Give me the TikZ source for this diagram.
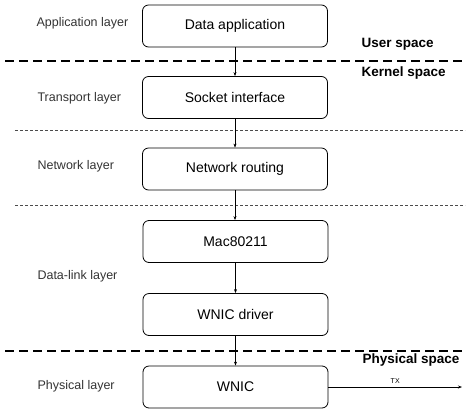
\documentclass[tikz,border=0pt]{standalone}
\usepackage{fontspec}
\setmainfont{Liberation Sans}
\usetikzlibrary{positioning}
\usetikzlibrary{arrows.meta}

\begin{document}
\begin{tikzpicture}[x=1pt, y=-1pt,
    block/.style={draw, thick, rounded corners=6pt, minimum width=185pt, minimum height=42pt, font=\fontsize{14}{16}\selectfont},
    layer/.style={right, font=\fontsize{12.5}{14}\selectfont, text=black!80},
    space/.style={right, font=\fontsize{13.5}{15}\selectfont\bfseries},
    flow/.style={-{Stealth[length=4pt, width=3pt]}, semithick}]
            \useasboundingbox (0,0) rectangle (469,416);

            % Layer boxes
            \node[block] (app) at (235,26) {Data application};
            \node[block] (sock) at (235,97.5) {Socket interface};
            \node[block] (route) at (235,169) {Network routing};
            \node[block] (mac) at (235.5,241.5) {Mac80211};
            \node[block] (drv) at (235.5,314.5) {WNIC driver};
            \node[block] (wnic) at (235.5,387) {WNIC};

            % Layer names
            \node[layer] (lapp) at (33,23) {Application layer};
            \node[layer] (ltrans) at (34,98) {Transport layer};
            \node[layer] (lnet) at (34,166) {Network layer};
            \node[layer] (llink) at (34,276) {Data-link layer};
            \node[layer] (lphy) at (34,386) {Physical layer};

            % Space boundaries
            \draw[very thick, dash pattern=on 9pt off 5pt] (5,61) -- (462,61);
            \draw[dash pattern=on 3pt off 2pt, black!70] (15,130) -- (465,130);
            \draw[dash pattern=on 3pt off 2pt, black!70] (15,205) -- (465,205);
            \draw[very thick, dash pattern=on 9pt off 5pt] (5,351) -- (462,351);

            \node[space] (user) at (358,44) {User space};
            \node[space] (kern) at (358,73) {Kernel space};
            \node[space] (phys) at (359,360) {Physical space};

            % Data flow
            \draw[flow] (app) -- (sock);
            \draw[flow] (sock) -- (route);
            \draw[flow] (route) -- (mac.north -| route);
            \draw[flow] (mac) -- (drv);
            \draw[flow] (drv) -- (wnic);

            \coordinate (air) at (462,387);
            \draw[flow] (wnic) -- (air) node[pos=0.5, above, font=\fontsize{7}{8}\selectfont] (tx) {TX};
        \end{tikzpicture}
\end{document}
